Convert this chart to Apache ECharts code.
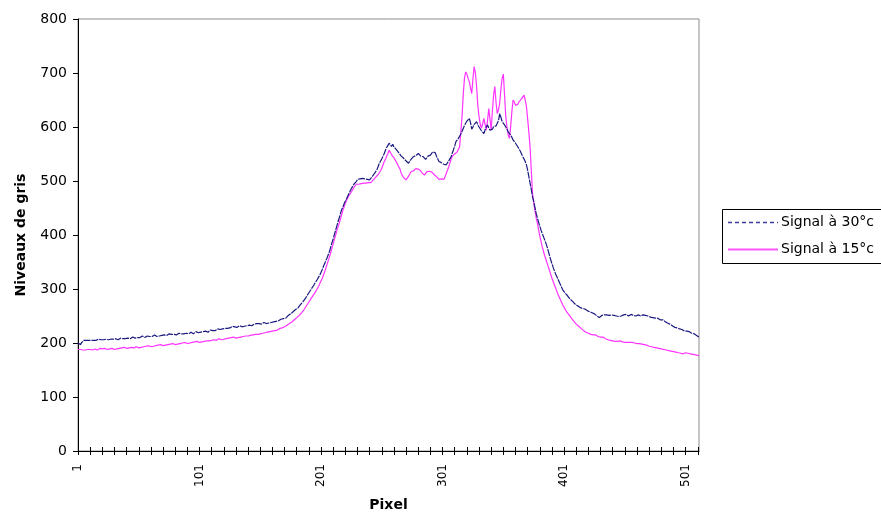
<!DOCTYPE html>
<html><head><meta charset="utf-8">
<script src="https://cdn.jsdelivr.net/npm/echarts@6/dist/echarts.min.js"></script>
<style>html,body{margin:0;padding:0;background:#fff}#c{width:881px;height:516px}</style>
</head><body><div id="c"></div>
<script>
const seriesNames = ["Signal à 30°c", "Signal à 15°c"];
const xTitle = "Pixel";
const yTitle = "Niveaux de gris";
const yTicks = [0, 100, 200, 300, 400, 500, 600, 700, 800];
const pixelCount = 512;
const categories = [];
for (let i = 1; i <= pixelCount; i++) categories.push(String(i));

const signal30 = [
200,199,197,201,204,205,204,205,206,205,
204,205,206,205,207,205,206,207,205,206,
207,206,205,207,208,206,205,207,208,207,
206,208,207,206,208,209,207,208,210,208,
207,209,210,208,209,211,210,209,211,210,
212,210,211,213,211,210,212,213,211,212,
214,212,213,215,213,212,214,213,215,214,
213,215,216,214,215,217,215,216,214,216,
217,215,216,218,216,217,219,217,216,218,
219,217,218,220,218,217,219,221,218,219,
218,220,219,221,220,222,221,220,222,224,
222,223,225,223,224,226,224,225,227,226,
225,227,229,227,230,228,229,231,229,230,
231,229,230,232,231,230,232,231,233,232,
231,233,234,232,233,235,234,236,235,236,
237,235,236,238,237,236,238,237,239,238,
237,239,241,240,242,241,243,244,243,245,
247,246,249,251,252,254,256,258,260,262,
263,265,268,271,273,276,279,282,286,289,
293,296,300,303,307,311,314,318,322,326,
331,336,342,347,353,358,364,370,378,386,
393,401,409,417,425,432,440,447,452,458,
463,467,472,477,482,486,490,494,497,499,
503,506,504,507,505,502,504,507,503,501,
502,505,508,511,514,517,521,527,533,537,
541,546,551,557,562,566,570,567,564,568,
563,561,558,555,552,549,546,545,542,539,
537,535,533,536,540,543,545,543,547,549,
551,548,546,543,545,542,540,543,546,545,
548,551,554,557,552,546,541,536,538,534,
533,531,530,530,533,537,541,545,552,558,
565,573,576,579,583,587,590,597,603,607,
611,614,616,608,596,600,605,608,610,604,
600,598,593,590,588,595,600,604,598,594,
591,596,601,604,602,601,612,625,618,610,
608,604,600,596,591,588,585,581,576,573,
570,567,563,559,555,550,545,541,536,530,
520,508,496,484,471,462,451,440,432,424,
416,409,403,397,391,385,378,370,362,354,
347,340,334,328,323,318,313,308,303,298,
295,292,289,287,284,281,279,277,275,272,
270,269,267,266,264,264,262,263,261,260,
259,258,258,256,255,254,252,250,248,247,
249,251,253,252,250,252,253,251,252,252,
250,251,249,250,248,249,248,250,251,252,
251,253,252,250,252,253,252,251,252,250,
251,252,251,250,251,252,250,251,250,250,
249,248,249,247,248,246,245,246,244,243,
242,243,241,240,239,237,236,235,233,232,
231,229,230,228,227,226,224,225,223,222,
221,222,220,221,219,218,219,217,215,214,
212,211
];

const signal15 = [
188,187,188,186,187,188,187,189,188,187,
188,189,187,188,189,188,187,189,190,188,
189,188,190,189,188,190,189,188,190,189,
188,190,189,191,190,189,191,190,192,191,
190,192,191,190,192,193,191,192,193,192,
191,193,192,194,193,192,194,193,195,194,
193,195,194,196,195,194,196,195,197,196,
195,197,196,198,197,196,198,197,199,198,
197,199,198,200,199,198,200,199,201,200,
199,201,200,202,201,200,202,201,203,202,
201,203,202,204,203,202,204,205,204,206,
205,204,206,207,205,206,208,207,206,208,
207,209,208,210,209,208,210,209,211,210,
209,211,210,212,211,213,212,211,213,214,
213,215,214,216,215,214,216,217,216,218,
217,219,218,220,219,221,220,222,221,223,
222,224,223,225,224,226,227,226,228,229,
230,231,233,234,236,237,239,241,243,245,
247,249,251,254,256,259,262,265,269,272,
276,279,283,286,290,293,297,301,305,310,
315,320,326,332,339,346,353,360,368,376,
384,392,400,408,415,422,430,438,446,452,
459,464,469,473,476,480,484,488,491,494,
496,494,497,495,498,496,494,496,498,497,
499,497,499,502,504,507,510,512,514,519,
524,530,536,540,546,551,557,553,549,546,
543,540,535,530,526,522,514,510,506,503,
502,504,509,513,517,515,519,521,523,520,
522,523,519,515,512,511,514,517,520,518,
520,517,514,512,511,508,505,503,502,504,
502,503,508,514,520,526,533,540,546,548,
550,553,554,556,563,590,619,660,690,702,
698,690,684,672,662,690,712,700,675,640,
619,605,598,606,616,605,594,612,634,615,
594,630,660,675,645,625,632,644,670,690,
698,660,619,600,585,579,600,628,650,646,
640,638,642,647,650,652,655,659,650,638,
615,590,563,520,477,460,445,432,422,410,
398,388,378,370,362,355,348,341,334,327,
320,314,308,302,296,290,285,280,275,270,
266,262,258,255,252,249,246,243,240,238,
235,233,231,229,227,225,223,222,220,219,
218,217,216,217,215,214,215,213,212,213,
211,210,211,209,208,207,206,207,205,206,
204,205,203,204,203,202,204,203,202,203,
201,202,201,203,201,200,201,199,200,201,
199,198,199,197,198,196,197,195,196,195,
194,195,193,194,192,193,191,192,190,191,
189,190,188,189,187,188,186,187,185,186,
184,185,183,184,182,183,181,182,180,181,
182,180,181,179,180,178,179,177,178,176,
177,176
];

const FONT = "DejaVu Sans, Verdana, sans-serif";
const navy = '#1a1a80';
const magenta = '#ff33ff';
const chart = echarts.init(document.getElementById('c'), null, {renderer: 'canvas'});
chart.setOption({
  animation: false,
  backgroundColor: '#ffffff',
  grid: {left: 78, top: 19, right: 182, bottom: 65, outerBoundsMode: 'none', containLabel: false,
         show: true, borderColor: '#8c8c8c', borderWidth: 1, backgroundColor: 'transparent'},
  graphic: [
    {type: 'rect', shape: {x: 722.5, y: 209.5, width: 180, height: 54}, style: {fill: '#fff', stroke: '#000', lineWidth: 1}, z: 100},
    {type: 'line', shape: {x1: 728, y1: 222.5, x2: 778, y2: 222.5}, style: {stroke: '#3c3c9c', lineWidth: 1.5, lineDash: [4, 3]}, z: 101},
    {type: 'text', x: 781, y: 222, style: {text: seriesNames[0], fill: '#000', font: '14px ' + FONT, textVerticalAlign: 'middle'}, z: 101},
    {type: 'line', shape: {x1: 728, y1: 249.5, x2: 778, y2: 249.5}, style: {stroke: '#ff55ff', lineWidth: 2}, z: 101},
    {type: 'text', x: 781, y: 249, style: {text: seriesNames[1], fill: '#000', font: '14px ' + FONT, textVerticalAlign: 'middle'}, z: 101}
  ],
  xAxis: [{
    type: 'category', data: categories, boundaryGap: false,
    name: xTitle, nameLocation: 'middle', nameGap: 47,
    nameTextStyle: {fontFamily: FONT, fontSize: 14, fontWeight: 'bold', color: '#000'},
    axisLine: {lineStyle: {color: '#000', width: 1}},
    axisTick: {show: true, interval: 9, length: 4, lineStyle: {color: '#000'}},
    axisLabel: {interval: 99, rotate: 90, margin: 13, fontFamily: FONT, fontSize: 12, color: '#000'},
    splitLine: {show: false}
  }, {
    type: 'category', data: categories, boundaryGap: false, position: 'bottom',
    axisLine: {show: false},
    axisTick: {show: true, inside: true, interval: 9, length: 4, lineStyle: {color: '#000'}},
    axisLabel: {show: false}, splitLine: {show: false}
  }],
  yAxis: {
    type: 'value', min: yTicks[0], max: yTicks[yTicks.length - 1], interval: 100,
    name: yTitle, nameLocation: 'middle', nameGap: 50, nameRotate: 90,
    nameTextStyle: {fontFamily: FONT, fontSize: 14, fontWeight: 'bold', color: '#000'},
    axisLine: {show: true, lineStyle: {color: '#000', width: 1}},
    axisTick: {show: true, length: 5, lineStyle: {color: '#000'}},
    axisLabel: {margin: 11, fontFamily: FONT, fontSize: 14, color: '#000'},
    splitLine: {show: false}
  },
  series: [
    {name: seriesNames[0], type: 'line', data: signal30, showSymbol: false, symbol: 'none',
     lineStyle: {color: navy, width: 1.2, type: [7, 1]}, itemStyle: {color: navy}},
    {name: seriesNames[1], type: 'line', data: signal15, showSymbol: false, symbol: 'none', z: 1,
     lineStyle: {color: magenta, width: 1.2}, itemStyle: {color: magenta}}
  ]
});
</script>
</body></html>
